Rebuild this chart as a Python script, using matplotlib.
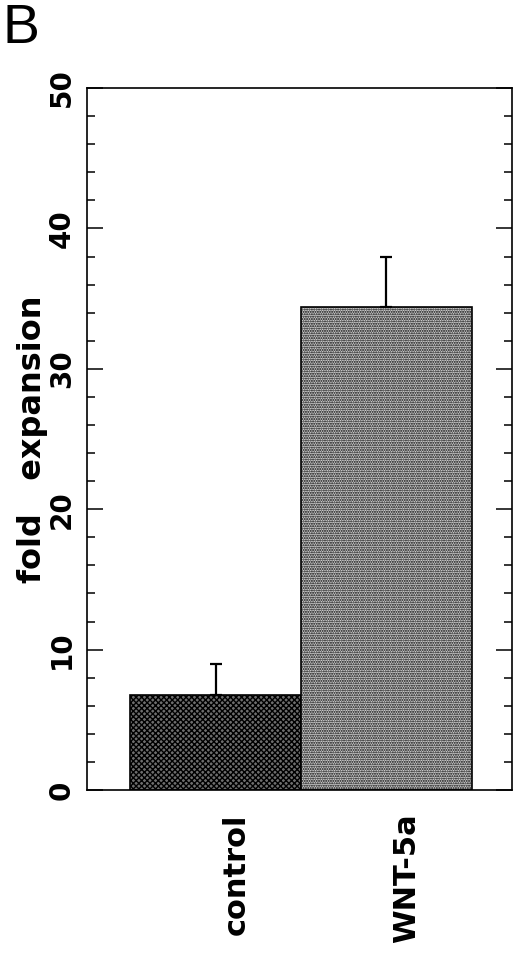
import numpy as np
import matplotlib.pyplot as plt
from matplotlib.ticker import MultipleLocator

# values
groups = ['control', 'WNT-5a']
fold = [6.8, 34.4]
err_up = [2.2, 3.6]
yticks = [0, 10, 20, 30, 40, 50]

plt.rcParams['font.family'] = ['DejaVu Sans']
plt.rcParams['hatch.linewidth'] = 1.0

fig = plt.figure(figsize=(5.2, 9.57), dpi=100)
ax = fig.add_axes([0.1673, 0.1745, 0.8173, 0.7335])

x = np.arange(len(groups))
bars = ax.bar(x, fold, width=1.0, edgecolor='black', linewidth=1.2)
bars[0].set_facecolor('#6e6e6e')
bars[0].set_hatch('xxxxxx')
bars[1].set_facecolor('#d2d2d2')
bars[1].set_hatch('.......')

ax.errorbar(x, fold, yerr=[np.zeros(len(fold)), err_up], fmt='none',
            ecolor='black', elinewidth=1.6, capsize=4.5, capthick=1.6)

ax.set_xlim(-0.752, 1.735)
ax.set_ylim(0, 50)
ax.set_yticks(yticks)
ax.set_yticklabels([str(t) for t in yticks], rotation=90, va='center',
                   fontsize=20, fontweight='bold')
ax.yaxis.set_minor_locator(MultipleLocator(2))
ax.tick_params(axis='y', which='major', direction='in', length=11.5,
               width=1.1, right=True, pad=8)
ax.tick_params(axis='y', which='minor', direction='in', length=5.8,
               width=1.1, right=True)

ax.set_xticks(x + 0.12)
ax.set_xticklabels(groups, rotation=90, va='top', ha='center',
                   fontsize=22, fontweight='bold')
ax.tick_params(axis='x', length=0, pad=17)

ax.set_ylabel('fold   expansion', fontsize=23, fontweight='bold', labelpad=0)

for s in ax.spines.values():
    s.set_linewidth(1.2)

fig.text(0.005, 0.997, 'B', fontsize=40, va='top', ha='left',
         family='Liberation Sans')

fig.savefig('out.png', dpi=100)
